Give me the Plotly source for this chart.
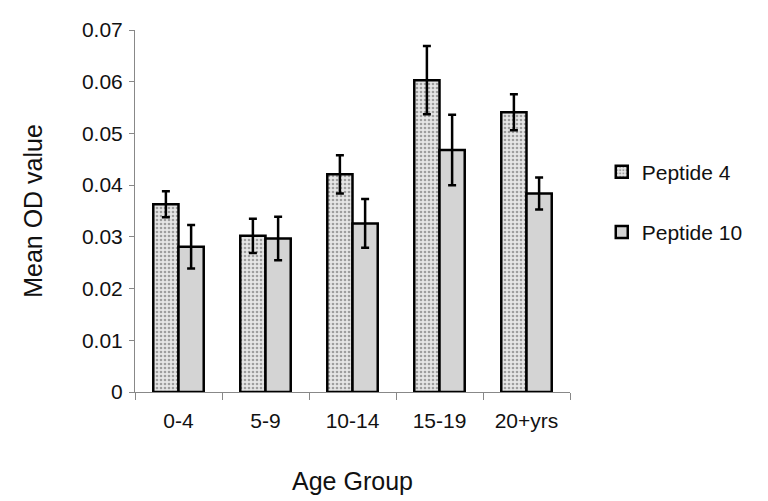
import plotly.graph_objects as go

categories = ["0-4", "5-9", "10-14", "15-19", "20+yrs"]
peptide4 = [0.0363, 0.0302, 0.0421, 0.0603, 0.0541]
peptide4_err = [0.0025, 0.0033, 0.0037, 0.0066, 0.0035]
peptide10 = [0.0281, 0.0297, 0.0326, 0.0468, 0.0384]
peptide10_err = [0.0042, 0.0042, 0.0047, 0.0068, 0.0031]
y_ticks = [0, 0.01, 0.02, 0.03, 0.04, 0.05, 0.06, 0.07]
y_tick_text = ["0", "0.01", "0.02", "0.03", "0.04", "0.05", "0.06", "0.07"]

font = "Liberation Sans, Arial, sans-serif"

fig = go.Figure()
fig.add_trace(go.Bar(
    x=categories, y=peptide4, name="Peptide 4", legendgroup="a",
    marker=dict(color="#4a4a4a", line=dict(color="black", width=2.5),
                pattern=dict(shape=".", bgcolor="#e6e6e6", fgcolor="#555555",
                             size=4, solidity=0.35)),
    error_y=dict(type="data", array=peptide4_err, color="black", thickness=2.5, width=4),
))
fig.add_trace(go.Bar(
    x=categories, y=peptide10, name="Peptide 10", legendgroup="b",
    marker=dict(color="#d4d4d4", line=dict(color="black", width=2.5)),
    error_y=dict(type="data", array=peptide10_err, color="black", thickness=2.5, width=4),
))

fig.update_layout(
    width=768, height=501,
    margin=dict(l=127, r=206, t=10, b=117),
    paper_bgcolor="white", plot_bgcolor="white",
    barmode="group", bargap=0.42, bargroupgap=0,
    font=dict(family=font, size=21, color="#111111"),
    showlegend=True,
    legend=dict(x=1.073, y=0.664, xanchor="left", yanchor="top",
                tracegroupgap=30, font=dict(size=21, color="#111111"),
                itemwidth=30),
)
fig.update_xaxes(
    showline=True, linecolor="#888888", linewidth=1,
    ticks="outside", tickson="boundaries", ticklen=7, tickcolor="#888888",
    ticklabelstandoff=10,
    title=dict(text="Age Group", font=dict(size=25), standoff=41),
    tickfont=dict(size=21),
)
fig.update_yaxes(
    range=[0, 0.07], showline=True, linecolor="#888888", linewidth=1,
    ticks="outside", ticklen=5, tickcolor="#888888",
    tickvals=y_ticks, ticktext=y_tick_text, showgrid=False, zeroline=False,
    ticklabelstandoff=2, ticklabeloverflow="allow",
    title=dict(text="Mean OD value", font=dict(size=25), standoff=32),
    tickfont=dict(size=21),
)

fig.write_html("out.html")
